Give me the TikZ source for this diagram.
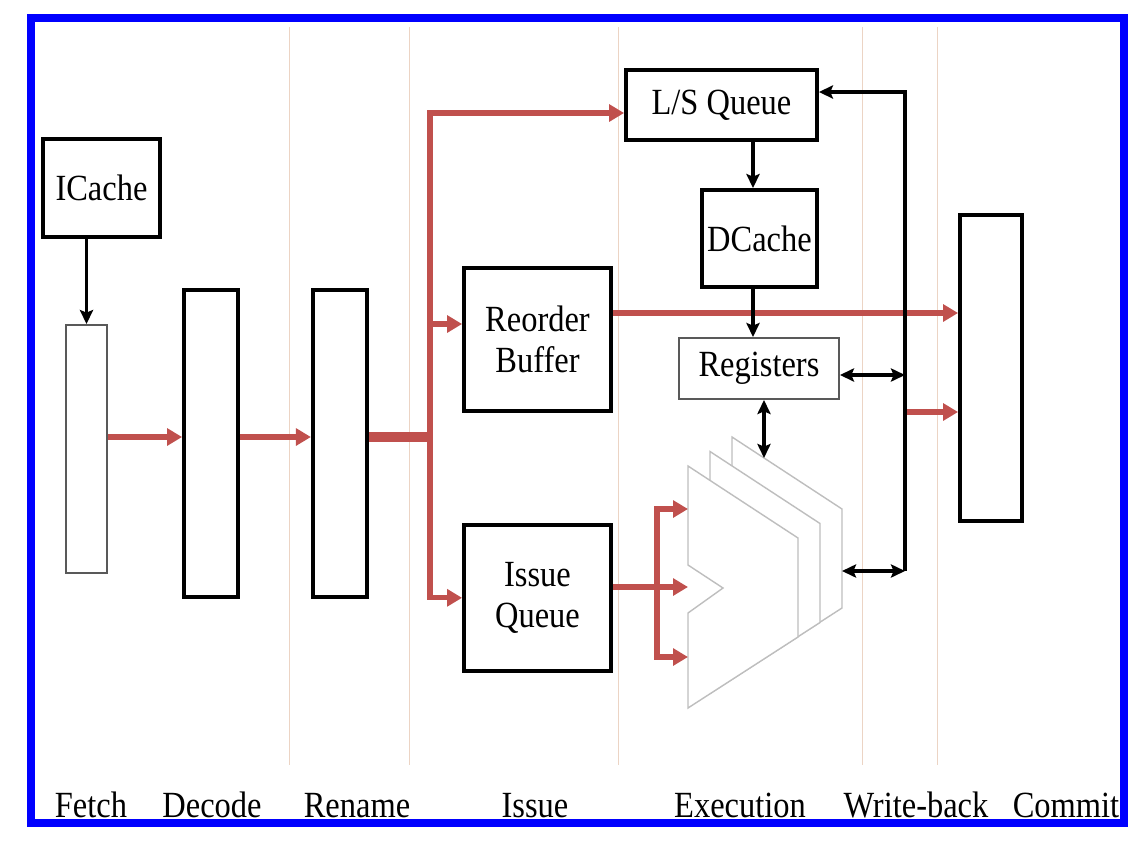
\documentclass[tikz,border=0pt]{standalone}
\usepackage{fontspec}
\setmainfont[FakeStretch=0.88]{Liberation Serif}
\usetikzlibrary{arrows.meta, positioning}
\definecolor{pipered}{RGB}{192,80,77}
\definecolor{stageline}{RGB}{236,212,196}
\definecolor{alugray}{RGB}{190,190,190}
\tikzstyle{block} = [draw, line width=2.2pt, inner sep=0pt, align=center]
\tikzstyle{thinblock} = [draw=black!65, line width=1.1pt, inner sep=0pt, align=center]
\tikzstyle{redline} = [pipered, line width=3pt]
\tikzstyle{redarrow} = [redline, -{Triangle[length=8.5pt,width=9.5pt]}]
\tikzstyle{blackarrow} = [line width=2.2pt, -{Stealth[length=8pt,width=7.5pt,inset=1.5pt]}]
\tikzstyle{dblarrow} = [line width=2.2pt, {Stealth[length=8pt,width=7.5pt,inset=1.5pt]}-{Stealth[length=8pt,width=7.5pt,inset=1.5pt]}]
\tikzstyle{stagesep} = [stageline, line width=0.5pt]
\tikzstyle{stagename} = [anchor=base, inner sep=0pt]
\tikzstyle{alu} = [draw=alugray, fill=white, line width=0.8pt]
\tikzstyle{blueframe} = [draw=blue, line width=4pt]

\begin{document}
\begin{tikzpicture}[x=0.02cm, y=-0.02cm, font=\fontsize{21}{23}\selectfont]
    \useasboundingbox (0,0) rectangle (1144,843);

    % Stage separators
    \foreach \sx in {289,409,618,862,937}
        \draw[stagesep] (\sx,27) -- (\sx,765);

    % Fetch, decode, rename
    \node[block, minimum width=2.34cm, minimum height=1.96cm] (icache) at (101.5,188) {ICache};
    \node[thinblock, minimum width=0.82cm, minimum height=4.96cm] (fetch) at (86.5,449) {};
    \node[block, minimum width=1.08cm, minimum height=6.14cm] (decode) at (211,443.5) {};
    \node[block, minimum width=1.08cm, minimum height=6.14cm, right=1.42cm of decode] (rename) {};

    % Issue
    \node[block, minimum width=2.94cm, minimum height=2.86cm] (rob) at (537.5,339.5) {Reorder\\Buffer};
    \node[block, minimum width=2.94cm, minimum height=2.92cm, below=2.2cm of rob] (iq) {Issue\\Queue};

    % Execution and commit
    \node[block, minimum width=3.82cm, minimum height=1.4cm] (lsq) at (721.5,105) {L/S Queue};
    \node[block, minimum width=2.3cm, minimum height=1.94cm] (dcache) at (759.5,238.5) {DCache};
    \node[thinblock, minimum width=3.2cm, minimum height=1.22cm] (regs) at (759,368.5) {Registers};
    \node[block, minimum width=1.24cm, minimum height=6.12cm] (commit) at (991,368) {};

    % ALUs (three stacked)
    \foreach \s in {2,1,0}
        \draw[alu, shift={(22*\s,-14.5*\s)}] (688,466) -- ++(110,72) -- ++(0,99) -- ++(-110,71)
            -- ++(0,-95) -- ++(35,-25) -- ++(-35,-23) -- cycle;

    % Helper points
    \coordinate (mid) at (0,437);
    \coordinate (split) at (430,437);
    \coordinate (lsin) at (0,113);
    \coordinate (robin) at (0,324);
    \coordinate (robout) at (0,313);
    \coordinate (iqout) at (0,587);
    \coordinate (fork) at (657,587);
    \coordinate (alua) at (688,509);
    \coordinate (alub) at (688,587);
    \coordinate (aluc) at (688,657);
    \coordinate (alutop) at (764,458);
    \coordinate (aluout) at (842,571);
    \coordinate (bustop) at (905,92);
    \coordinate (busbot) at (905,571);
    \coordinate (busreg) at (905,375);
    \coordinate (buscommit) at (905,412);
    \coordinate (memx) at (753,0);

    % Instruction flow
    \draw[redarrow] (fetch.east |- mid) -- (decode.west |- mid);
    \draw[redarrow] (decode.east |- mid) -- (rename.west |- mid);
    \draw[redline, line width=5.5pt] (rename.east |- mid) -- (split);
    \draw[redarrow] (split) |- (lsq.west |- lsin);
    \draw[redarrow] (split) |- (rob.west |- robin);
    \draw[redarrow] (split) |- (iq.west);
    \draw[redarrow] (rob.east |- robout) -- (commit.west |- robout);
    \draw[redarrow] (buscommit) -- (commit.west |- buscommit);
    \draw[redline] (iq.east |- iqout) -- (fork);
    \draw[redarrow] (fork) |- (alua);
    \draw[redarrow] (fork) -- (alub);
    \draw[redarrow] (fork) |- (aluc);

    % Data paths
    \draw[blackarrow] (icache.south -| fetch.north) -- (fetch.north);
    \draw[blackarrow] (lsq.south -| memx) -- (dcache.north -| memx);
    \draw[blackarrow] (dcache.south -| memx) -- (regs.north -| memx);
    \draw[dblarrow] (regs.south -| alutop) -- (alutop);
    \draw[blackarrow] (busbot) |- (lsq.east |- bustop);
    \draw[dblarrow] (regs.east |- busreg) -- (busreg);
    \draw[dblarrow] (aluout) -- (busbot);

    % Stage names
    \node[stagename] (fetchname) at (91,817) {Fetch};
    \node[stagename] (decodename) at (212,817) {Decode};
    \node[stagename] (renamename) at (357,817) {Rename};
    \node[stagename] (issuename) at (535,817) {Issue};
    \node[stagename] (execname) at (740,817) {Execution};
    \node[stagename] (wbname) at (916,817) {Write-back};
    \node[stagename] (commitname) at (1066,817) {Commit};

    \draw[blueframe] (31,18) rectangle (1124,823);
\end{tikzpicture}
\end{document}
